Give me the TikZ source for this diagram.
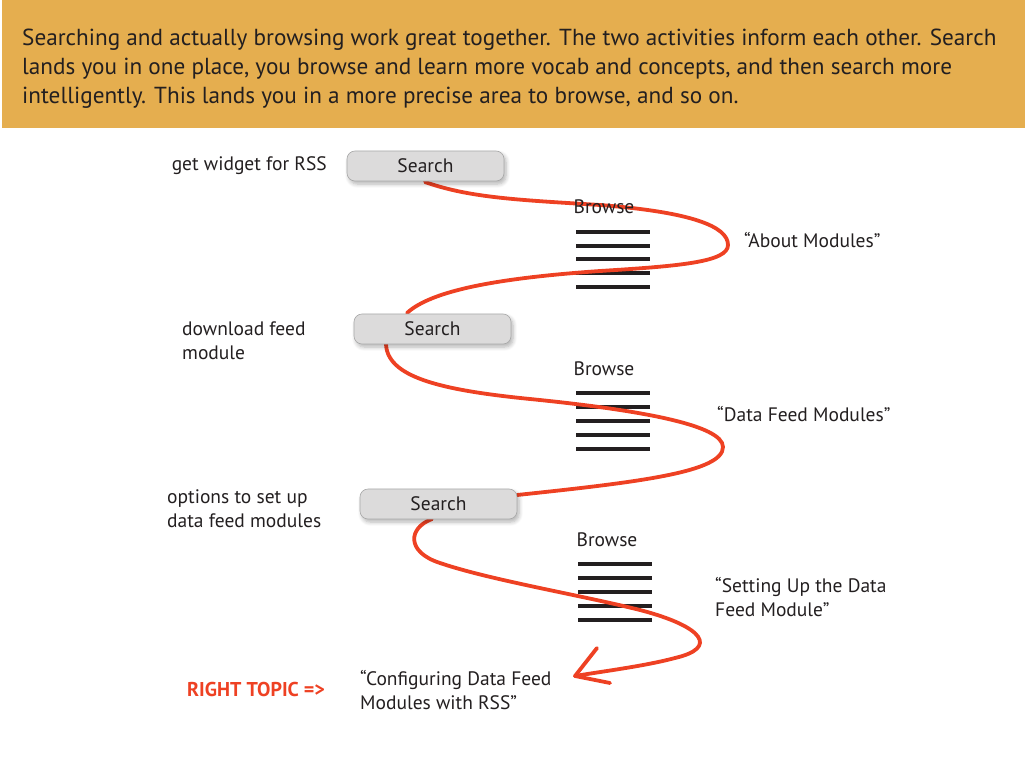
\documentclass[tikz,border=0pt]{standalone}
\usepackage{fontspec}
\setmainfont{PT Sans}
\usetikzlibrary{shadows,shadows.blur}
\definecolor{hdr}{HTML}{E5AE4F}
\definecolor{ink}{HTML}{231F20}
\definecolor{redline}{HTML}{EE4123}
\definecolor{btnfill}{HTML}{DCDBDB}
\definecolor{btnedge}{HTML}{A8A8A8}
\begin{document}
\begin{tikzpicture}[x=1pt,y=-1pt,
  lbl/.style={font=\fontsize{19.5}{24}\selectfont, text=ink, align=left, inner sep=0pt},
  btn/.style={draw=btnedge, line width=0.6pt, fill=btnfill, rounded corners=8pt,
    minimum width=157pt, minimum height=30pt, inner sep=0pt,
    font=\fontsize{19.5}{22}\selectfont, text=ink,
    blur shadow={shadow blur steps=6, shadow xshift=2pt, shadow yshift=-3pt, shadow blur radius=4pt, shadow opacity=30}},
  barline/.style={draw=ink, line width=3.2pt},
  path/.style={draw=redline, line width=3.8pt, line cap=round, line join=round}]
\useasboundingbox (0,0) rectangle (1025,768);
% header
\fill[hdr] (2,0) rectangle (1025,128);
\node[anchor=west, align=left, inner sep=0pt, text=ink,
  font=\fontsize{23.2}{29}\selectfont] (hdrtext) at (22,69)
  {Searching and actually browsing work great together. The two activities inform each other. Search\\
   lands you in one place, you browse and learn more vocab and concepts, and then search more\\
   intelligently. This lands you in a more precise area to browse, and so on.};
% browse lists
\foreach \y in {232,246,259,273,287} \draw[barline] (576,\y) -- (650,\y);
\foreach \y in {393,407,421,435,449} \draw[barline] (576,\y) -- (650,\y);
\foreach \y in {564,578,592,606,620} \draw[barline] (578,\y) -- (652,\y);
% curve coordinates
\coordinate (c1s) at (425,182);
\coordinate (c1e) at (407,313);
\coordinate (c2s) at (386,343);
\coordinate (c2e) at (517,495);
\coordinate (c3s) at (432,519);
\coordinate (tip) at (575,676);
\coordinate (barbA) at (597,648);
\coordinate (barbB) at (610,683);
% red path
\draw[path] (c1s) .. controls (470,198) and (520,200) .. (600,205)
  .. controls (690,212) and (728,226) .. (728,245)
  .. controls (728,262) and (680,266) .. (600,271)
  .. controls (500,278) and (432,290) .. (c1e);
\draw[path] (c2s) .. controls (386,377) and (440,390) .. (530,399)
  .. controls (640,410) and (723,425) .. (723,447)
  .. controls (723,472) and (640,482) .. (c2e);
\draw[path] (c3s) .. controls (408,528) and (406,552) .. (440,563)
  .. controls (490,580) and (580,595) .. (640,610)
  .. controls (705,627) and (718,648) .. (675,658)
  .. controls (645,666) and (605,671) .. (tip);
\draw[path] (barbA) -- (tip) -- (barbB);
% buttons
\node[btn] (s1) at (425.5,166) {Search};
\node[btn] (s2) at (432.5,329) {Search};
\node[btn] (s3) at (438.5,504) {Search};
% browse labels
\node[lbl] (b1) at (604,207) {Browse};
\node[lbl] (b2) at (604,369) {Browse};
\node[lbl] (b3) at (607,540) {Browse};
% left labels
\node[lbl, anchor=east] (l1) at (327,166) {get widget for RSS};
\node[lbl, anchor=west] (l2) at (182,341) {download feed\\module};
\node[lbl, anchor=west] (l3) at (167,509) {options to set up\\data feed modules};
% right labels
\node[lbl, anchor=west] (r1) at (744,240) {“About Modules”};
\node[lbl, anchor=west] (r2) at (717,414) {“Data Feed Modules”};
\node[lbl, anchor=west] (r3) at (715,597) {“Setting Up the Data\\Feed Module”};
\node[lbl, anchor=west] (r4) at (360,690) {“Configuring Data Feed\\Modules with RSS”};
\node[anchor=west, inner sep=0pt, text=redline, font=\fontsize{20}{22}\selectfont\bfseries] (rt) at (187,689) {RIGHT TOPIC =>};
\end{tikzpicture}
\end{document}
